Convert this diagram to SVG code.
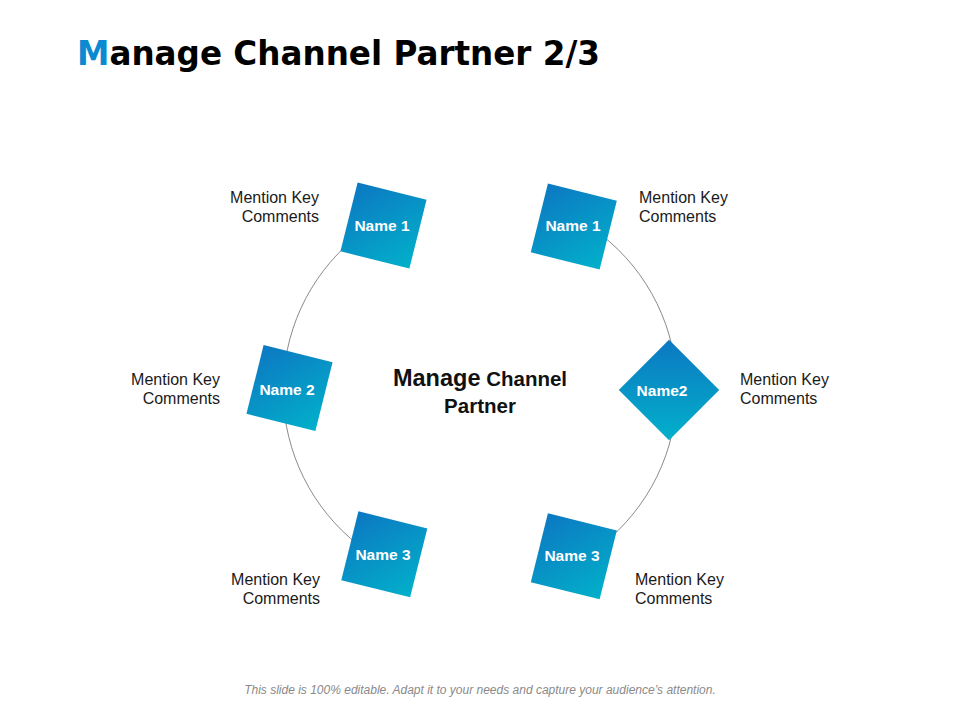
<svg xmlns="http://www.w3.org/2000/svg" width="960" height="720" viewBox="0 0 960 720">
<defs>
<linearGradient id="g" x1="0" y1="0" x2="1" y2="1">
<stop offset="0" stop-color="#0c78c2"/>
<stop offset="1" stop-color="#02b0ca"/>
</linearGradient>
<style>
.sq{fill:url(#g)}
.nm{font-family:"Liberation Sans",Arial,sans-serif;font-weight:bold;font-size:15.5px;fill:#fff;text-anchor:middle}
.lb{font-family:"Liberation Sans",Arial,sans-serif;font-size:16px;fill:#1a1a1a}
.r{text-anchor:end}
.arc{fill:none;stroke:#8a8a8a;stroke-width:1}
</style>
</defs>
<rect width="960" height="720" fill="#fff"/>
<text x="77" y="65" font-family="'DejaVu Sans',sans-serif" font-weight="bold" font-size="33" textLength="523" lengthAdjust="spacingAndGlyphs" fill="#000"><tspan fill="#0a8ad0">M</tspan>anage Channel Partner 2/3</text>
<g id="connectors">
<path class="arc" d="M353.6,239.1 A197,197 0 0 0 358.7,545.2"/>
<path class="arc" d="M601.3,234.8 A197,197 0 0 1 601.3,545.2"/>
</g>
<g id="name1-left">
<rect class="sq" x="-35.5" y="-35.5" width="71" height="71" transform="translate(383.5,225.5) rotate(14)"/>
<text class="nm" x="382" y="231">Name 1</text>
</g>
<g id="name1-right">
<rect class="sq" x="-35.5" y="-35.5" width="71" height="71" transform="translate(573.8,226.5) rotate(14)"/>
<text class="nm" x="573" y="231">Name 1</text>
</g>
<g id="name2-left">
<rect class="sq" x="-35.5" y="-35.5" width="71" height="71" transform="translate(289.5,388) rotate(14)"/>
<text class="nm" x="287" y="395">Name 2</text>
</g>
<g id="name2-right">
<rect class="sq" x="-35.5" y="-35.5" width="71" height="71" transform="translate(669,390) rotate(45)"/>
<text class="nm" x="662" y="396">Name2</text>
</g>
<g id="name3-left">
<rect class="sq" x="-35.5" y="-35.5" width="71" height="71" transform="translate(384.3,554.3) rotate(14)"/>
<text class="nm" x="383" y="560">Name 3</text>
</g>
<g id="name3-right">
<rect class="sq" x="-35.5" y="-35.5" width="71" height="71" transform="translate(573.8,556.3) rotate(14)"/>
<text class="nm" x="572" y="561">Name 3</text>
</g>
<g id="center">
<text x="480" y="386" text-anchor="middle" font-family="'Liberation Sans',Arial,sans-serif" font-weight="bold" fill="#111"><tspan font-size="23.5">Manage</tspan><tspan font-size="20.5"> Channel</tspan></text>
<text x="480" y="413" text-anchor="middle" font-family="'Liberation Sans',Arial,sans-serif" font-weight="bold" font-size="20.5" fill="#111">Partner</text>
</g>
<g id="labels">
<text class="lb r" x="319" y="203">Mention Key</text>
<text class="lb r" x="319" y="222">Comments</text>
<text class="lb" x="639" y="203">Mention Key</text>
<text class="lb" x="639" y="222">Comments</text>
<text class="lb r" x="220" y="385">Mention Key</text>
<text class="lb r" x="220" y="404">Comments</text>
<text class="lb" x="740" y="385">Mention Key</text>
<text class="lb" x="740" y="404">Comments</text>
<text class="lb r" x="320" y="585">Mention Key</text>
<text class="lb r" x="320" y="604">Comments</text>
<text class="lb" x="635" y="585">Mention Key</text>
<text class="lb" x="635" y="604">Comments</text>
</g>
<text x="480" y="694" text-anchor="middle" font-family="'Liberation Sans',Arial,sans-serif" font-style="italic" font-size="12" fill="#8a8a8a">This slide is 100% editable. Adapt it to your needs and capture your audience’s attention.</text>
</svg>
